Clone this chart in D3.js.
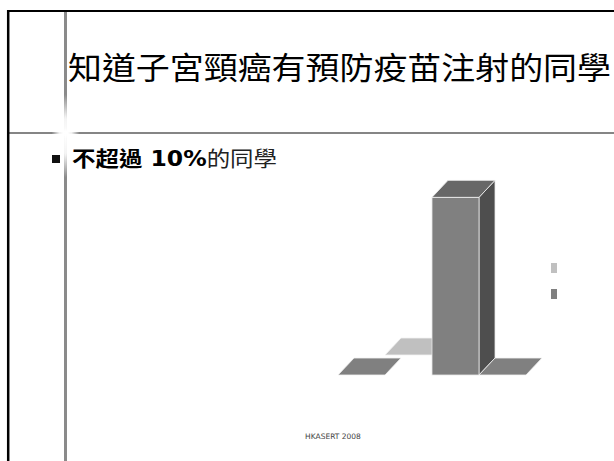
<!DOCTYPE html>
<html>
<head>
<meta charset="utf-8">
<script src="https://cdn.jsdelivr.net/npm/d3@7"></script>
<style>
  body { margin: 0; background: #fff; }
</style>
</head>
<body>
<script>
// slide texts
const title = '知道子宮頸癌有預防疫苗注射的同學'
const bulletBold = '不超過 10%'
const bulletRest = '的同學'
const footer = 'HKASERT 2008'

// 3D columns, one slot per drawn column
const slots = ['s1', 's2', 's3', 's4']
const frontValues = [0, null, 95, 0]     // dark gray series (front row)
const backValues = [null, 0, null, null] // light gray series (back row)
const legendColors = ['#c0c0c0', '#808080']

const W = 614, H = 461
const svg = d3.select('body').append('svg')
    .attr('width', W)
    .attr('height', H)
    .style('display', 'block')

svg.append('rect').attr('width', W).attr('height', H).attr('fill', '#fff')

// ---- slide frame ----
const defs = svg.append('defs')
const glow = defs.append('radialGradient').attr('id', 'glow')
glow.append('stop').attr('offset', '0%').attr('stop-color', '#fff').attr('stop-opacity', 1)
glow.append('stop').attr('offset', '45%').attr('stop-color', '#fff').attr('stop-opacity', 0.9)
glow.append('stop').attr('offset', '100%').attr('stop-color', '#fff').attr('stop-opacity', 0)

svg.append('line').attr('x1', 8).attr('x2', W).attr('y1', 133).attr('y2', 133)
    .attr('stroke', '#858585').attr('stroke-width', 2)
svg.append('line').attr('x1', 65.5).attr('x2', 65.5).attr('y1', 11).attr('y2', H)
    .attr('stroke', '#8a8a8a').attr('stroke-width', 3)
// the little white flare where the gray lines cross
svg.append('ellipse').attr('cx', 65.5).attr('cy', 136).attr('rx', 5).attr('ry', 42)
    .attr('fill', 'url(#glow)')
svg.append('ellipse').attr('cx', 65.5).attr('cy', 133).attr('rx', 14).attr('ry', 5)
    .attr('fill', 'url(#glow)')

svg.append('line').attr('x1', 7).attr('x2', W).attr('y1', 11).attr('y2', 11)
    .attr('stroke', '#000').attr('stroke-width', 2)
svg.append('line').attr('x1', 8.2).attr('x2', 8.2).attr('y1', 10).attr('y2', H)
    .attr('stroke', '#000').attr('stroke-width', 2.5)

// ---- texts ----
svg.append('text')
    .attr('x', 68)
    .attr('y', 79)
    .attr('font-family', '"Noto Sans CJK TC", sans-serif')
    .attr('font-size', 31)
    .attr('fill', '#000')
    .attr('textLength', 543)
    .attr('lengthAdjust', 'spacingAndGlyphs')
    .text(title)

svg.append('rect').attr('x', 52).attr('y', 155).attr('width', 8).attr('height', 8).attr('fill', '#111')

const bullet = svg.append('text')
    .attr('x', 72)
    .attr('y', 166)
    .attr('font-size', 21)
    .attr('font-family', '"DejaVu Sans", "Noto Sans CJK TC", sans-serif')
    .attr('textLength', 205)
    .attr('lengthAdjust', 'spacingAndGlyphs')
bullet.append('tspan').attr('font-weight', 'bold').attr('fill', '#000').text(bulletBold)
bullet.append('tspan').attr('font-family', '"Noto Sans CJK TC", sans-serif').attr('fill', '#222').text(bulletRest)

svg.append('text')
    .attr('x', 333)
    .attr('y', 439)
    .attr('text-anchor', 'middle')
    .attr('font-family', '"DejaVu Sans", sans-serif')
    .attr('font-size', 7.5)
    .attr('fill', '#444')
    .text(footer)

// ---- 3D column chart ----
const x = d3.scaleBand().domain(slots).range([338, 526])
const y = d3.scaleLinear().domain([0, 100]).range([375, 188])
const dx = 16, dy = 17      // depth of a column
const backShift = 20        // back row sits higher on the floor

const bars = []
slots.forEach((s, i) => {
    if (backValues[i] !== null) bars.push({ slot: s, value: backValues[i], row: 1, color: legendColors[0] })
})
slots.forEach((s, i) => {
    if (frontValues[i] !== null) bars.push({ slot: s, value: frontValues[i], row: 0, color: legendColors[1] })
})

const chart = svg.append('g').attr('class', 'chart')

bars.forEach((d) => {
    const x0 = x(d.slot)
    const w = x.bandwidth()
    const base = y(0) - d.row * backShift
    const top = y(d.value) - d.row * backShift
    const c = d3.color(d.color)
    const g = chart.append('g')

    if (base - top > 0.5) {
        // side face
        g.append('path')
            .attr('d', `M${x0 + w},${top} L${x0 + w + dx},${top - dy} L${x0 + w + dx},${base - dy} L${x0 + w},${base} Z`)
            .attr('fill', c.darker(1.4))
            .attr('stroke', '#e8e8e8').attr('stroke-width', 0.8)
        // front face
        g.append('rect')
            .attr('x', x0).attr('y', top)
            .attr('width', w).attr('height', base - top)
            .attr('fill', c)
            .attr('stroke', '#e8e8e8').attr('stroke-width', 0.8)
    }
    // top face
    g.append('path')
        .attr('d', `M${x0},${top} L${x0 + w},${top} L${x0 + w + dx},${top - dy} L${x0 + dx},${top - dy} Z`)
        .attr('fill', base - top > 0.5 ? c.darker(0.6) : c)
        .attr('stroke', '#f2f2f2').attr('stroke-width', 0.8)
})

// legend: swatches only
const legend = svg.append('g').attr('class', 'legend')
legend.selectAll('rect')
    .data(legendColors)
    .enter()
    .append('rect')
    .attr('x', 551)
    .attr('y', (d, i) => 263 + i * 26)
    .attr('width', 6)
    .attr('height', 10)
    .attr('fill', (d) => d)
</script>
</body>
</html>
